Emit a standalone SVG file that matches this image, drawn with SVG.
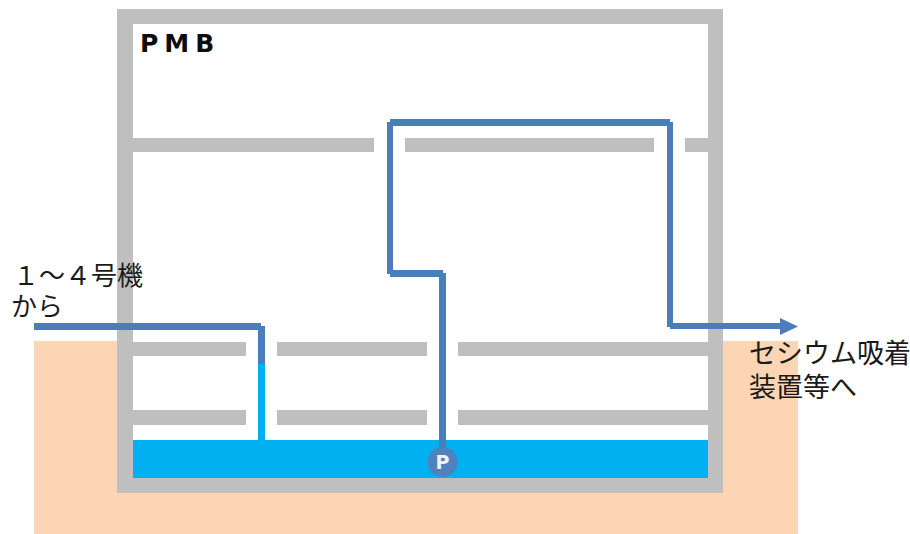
<svg xmlns="http://www.w3.org/2000/svg" width="910" height="534" viewBox="0 0 910 534">
<style>
.wall{fill:#bfbfbf}
.pipe{fill:none;stroke:#4a7ebb;stroke-width:7}
.cjk{font-family:"Noto Sans CJK JP","Liberation Sans",sans-serif;font-size:26px;fill:#1a1a1a}
</style>
<rect width="910" height="534" fill="#fff"/>
<g id="ground"><rect x="34" y="341" width="764" height="193" fill="#fcd5b5"/></g>
<g id="building">
<rect class="wall" x="117" y="9" width="606" height="484"/>
<rect x="133" y="24" width="575" height="416" fill="#fff"/>
<rect x="133" y="440" width="575" height="38" fill="#00b0f0"/>
<rect class="wall" x="133" y="138" width="241" height="14"/>
<rect class="wall" x="405" y="138" width="249" height="14"/>
<rect class="wall" x="685" y="138" width="23" height="14"/>
<rect class="wall" x="133" y="342" width="113" height="14"/>
<rect class="wall" x="277" y="342" width="150" height="14"/>
<rect class="wall" x="458" y="342" width="250" height="14"/>
<rect class="wall" x="133" y="410" width="113" height="15"/>
<rect class="wall" x="277" y="410" width="150" height="15"/>
<rect class="wall" x="458" y="410" width="250" height="15"/>
</g>
<g id="connectors">
<rect x="258" y="364" width="7" height="76" fill="#00b0f0"/>
<path class="pipe" d="M34 326.500H261"/>
<path class="pipe" d="M261.500 326V364"/>
<path class="pipe" d="M390 122.500H670"/>
<path class="pipe" d="M390 122V274" style="stroke-width:6"/>
<path class="pipe" d="M390 273.500H443"/>
<path class="pipe" d="M442.500 273V455"/>
<path class="pipe" d="M670 122V327" style="stroke-width:6"/>
<path class="pipe" d="M670 326H781" style="stroke-width:6"/>
<polygon points="780,318 798,326.500 780,335" fill="#4a7ebb"/>
</g>
<g id="pump">
<circle cx="442.500" cy="462" r="15" fill="#4f81bd"/>
<text x="442.500" y="469" text-anchor="middle" font-family="'DejaVu Sans',sans-serif" font-weight="bold" font-size="19" fill="#f2f2f2">P</text>
</g>
<g id="labels">
<text x="140" y="52" font-family="'DejaVu Sans',sans-serif" font-weight="bold" font-size="25" letter-spacing="6" fill="#0d0d0d">PMB</text>
<text class="cjk"><tspan x="13" y="285">１～４号機</tspan><tspan x="11" y="316">から</tspan></text>
<text class="cjk" style="font-size:27px"><tspan x="749" y="363">セシウム吸着</tspan><tspan x="749" y="397">装置等へ</tspan></text>
</g>
</svg>
